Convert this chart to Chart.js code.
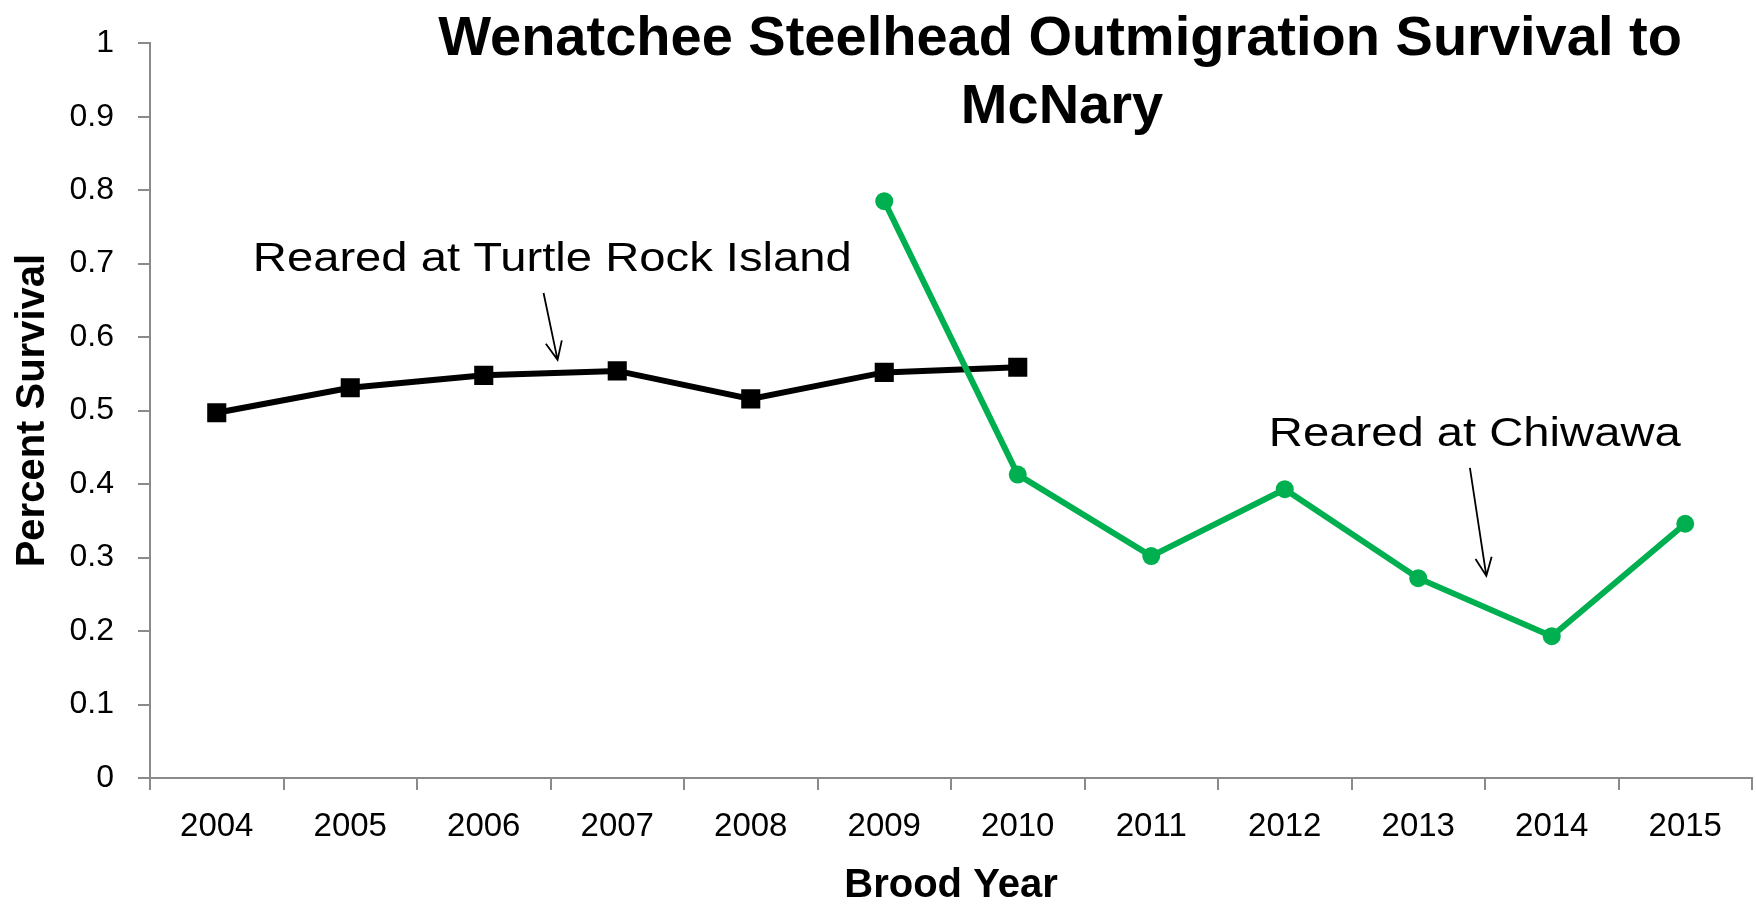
<!DOCTYPE html>
<html>
<head>
<meta charset="utf-8">
<title>Wenatchee Steelhead Outmigration Survival to McNary</title>
<script src="https://cdn.jsdelivr.net/npm/chart.js@4.4.1/dist/chart.umd.min.js"></script>
<style>
  html, body { margin: 0; padding: 0; background: #fff; }
  canvas { display: block; }
</style>
</head>
<body>
<canvas id="myChart" width="1756" height="907"></canvas>
<script>
// data
const broodYears = ['2004', '2005', '2006', '2007', '2008', '2009', '2010', '2011', '2012', '2013', '2014', '2015'];
const turtleRock = [0.497, 0.531, 0.548, 0.554, 0.516, 0.552, 0.559, null, null, null, null, null];
const chiwawa = [null, null, null, null, null, 0.785, 0.413, 0.302, 0.393, 0.272, 0.193, 0.346];
const yTicks = [0, 0.1, 0.2, 0.3, 0.4, 0.5, 0.6, 0.7, 0.8, 0.9, 1];
const yTickLabels = ['0', '0.1', '0.2', '0.3', '0.4', '0.5', '0.6', '0.7', '0.8', '0.9', '1'];
const titleLines = ['Wenatchee Steelhead Outmigration Survival to', 'McNary'];

const FONT = "'Liberation Sans', Arial, sans-serif";
const axisGrey = '#8a8a8a';
const green = '#00b050';

// text boxes + arrows, placed in data space (category index, value)
const notes = [
    { text: 'Reared at Turtle Rock Island', at: [0.27, 0.69], from: [2.448, 0.660], to: [2.553, 0.569] },
    { text: 'Reared at Chiwawa', at: [7.881, 0.452], from: [9.387, 0.422], to: [9.510, 0.275] }
];

const notesPlugin = {
    id: 'notes',
    afterDatasetsDraw(chart) {
        const ctx = chart.ctx;
        const x = chart.scales.x;
        const y = chart.scales.y;
        const px = (i) => x.getPixelForValue(0) + i * (x.getPixelForValue(1) - x.getPixelForValue(0));

        ctx.save();
        ctx.fillStyle = '#000';
        ctx.strokeStyle = '#000';
        ctx.font = '40px ' + FONT;
        ctx.textAlign = 'left';
        ctx.textBaseline = 'alphabetic';
        notes.forEach(n => {
            // the text box in the original is a bit wider than plain Arial
            ctx.save();
            ctx.translate(px(n.at[0]), y.getPixelForValue(n.at[1]));
            ctx.scale(1.18, 1);
            ctx.fillText(n.text, 0, 0);
            ctx.restore();

            const x1 = px(n.from[0]), y1 = y.getPixelForValue(n.from[1]);
            const x2 = px(n.to[0]), y2 = y.getPixelForValue(n.to[1]);
            const ang = Math.atan2(y2 - y1, x2 - x1);
            const head = 20, spread = 0.42;
            ctx.lineWidth = 1.8;
            ctx.beginPath();
            ctx.moveTo(x1, y1);
            ctx.lineTo(x2, y2);
            ctx.moveTo(x2 - head * Math.cos(ang - spread), y2 - head * Math.sin(ang - spread));
            ctx.lineTo(x2, y2);
            ctx.lineTo(x2 - head * Math.cos(ang + spread), y2 - head * Math.sin(ang + spread));
            ctx.stroke();
        });
        ctx.restore();
    },
    afterDraw(chart) {
        // title sits over the plot, right of centre, like the original
        const ctx = chart.ctx;
        ctx.save();
        ctx.fillStyle = '#000';
        ctx.font = 'bold 56px ' + FONT;
        ctx.textAlign = 'center';
        ctx.textBaseline = 'alphabetic';
        ctx.fillText(titleLines[0], 1060, 55);
        ctx.fillText(titleLines[1], 1062, 123);
        ctx.restore();
    }
};

const ctx = document.getElementById('myChart');

const myChart = new Chart(ctx, {
    type: 'line',
    data: {
        labels: broodYears,
        datasets: [
            {
                label: 'Reared at Turtle Rock Island',
                data: turtleRock,
                borderColor: '#000',
                backgroundColor: '#000',
                borderWidth: 6,
                pointStyle: 'rect',
                pointRadius: 13.5,
                pointBorderWidth: 0,
                tension: 0,
                order: 1
            },
            {
                label: 'Reared at Chiwawa',
                data: chiwawa,
                borderColor: green,
                backgroundColor: green,
                borderWidth: 6,
                pointStyle: 'circle',
                pointRadius: 9,
                pointBorderWidth: 0,
                tension: 0,
                order: 0
            }
        ]
    },
    options: {
        responsive: false,
        animation: false,
        devicePixelRatio: 1,
        layout: {
            autoPadding: false,
            padding: { top: 39, right: 4, left: 0, bottom: 0 }
        },
        plugins: {
            legend: { display: false },
            tooltip: { enabled: false },
            title: { display: false }
        },
        scales: {
            x: {
                type: 'category',
                offset: true,
                grid: {
                    offset: true,
                    drawOnChartArea: false,
                    drawTicks: true,
                    tickLength: 12,
                    color: axisGrey,
                    lineWidth: 2
                },
                border: { color: axisGrey, width: 2 },
                ticks: {
                    color: '#000',
                    padding: 17,
                    maxRotation: 0,
                    autoSkip: false,
                    font: { family: FONT, size: 33 }
                },
                title: {
                    display: true,
                    text: 'Brood Year',
                    color: '#000',
                    font: { family: FONT, size: 40, weight: 'bold', lineHeight: 1 },
                    padding: { top: 0, bottom: 1 }
                },
                afterFit(scale) {
                    scale.height = 129;
                    // labels sit between the ticks, so no side padding is needed
                    scale.paddingLeft = 0;
                    scale.paddingRight = 0;
                }
            },
            y: {
                min: 0,
                max: 1,
                afterBuildTicks(scale) {
                    scale.ticks = yTicks.map(v => ({ value: v }));
                },
                grid: {
                    drawOnChartArea: false,
                    drawTicks: true,
                    tickLength: 12,
                    color: axisGrey,
                    lineWidth: 2
                },
                border: { color: axisGrey, width: 2 },
                ticks: {
                    color: '#000',
                    padding: 24,
                    font: { family: FONT, size: 32 },
                    callback: (value, index) => yTickLabels[index]
                },
                title: {
                    display: true,
                    text: 'Percent Survival',
                    color: '#000',
                    font: { family: FONT, size: 40, weight: 'bold', lineHeight: 1 },
                    padding: { top: 13, bottom: 0 }
                },
                afterFit(scale) { scale.width = 150; }
            }
        }
    },
    plugins: [notesPlugin]
});
</script>
</body>
</html>
